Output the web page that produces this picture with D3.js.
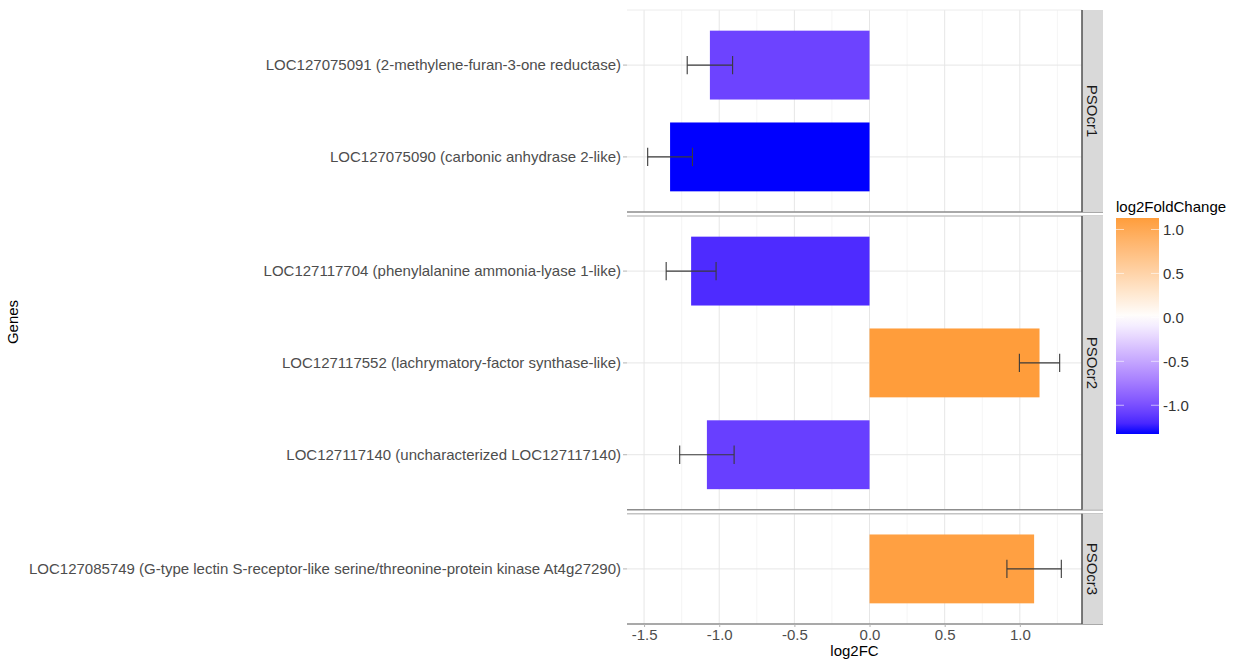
<!DOCTYPE html>
<html>
<head>
<meta charset="utf-8">
<script src="https://cdn.jsdelivr.net/npm/d3@7"></script>
<style>
  html, body { margin: 0; padding: 0; background: #fff; }
  svg { display: block; font-family: "Liberation Sans", Arial, sans-serif; }
</style>
</head>
<body>
<svg id="chart" width="1236" height="662"></svg>
<script>
// Facets (clusters) and genes, listed top to bottom inside each facet
const clusters = ["PSOcr1", "PSOcr2", "PSOcr3"];
const genes = [
  "LOC127075091 (2-methylene-furan-3-one reductase)",
  "LOC127075090 (carbonic anhydrase 2-like)",
  "LOC127117704 (phenylalanine ammonia-lyase 1-like)",
  "LOC127117552 (lachrymatory-factor synthase-like)",
  "LOC127117140 (uncharacterized LOC127117140)",
  "LOC127085749 (G-type lectin S-receptor-like serine/threonine-protein kinase At4g27290)"
];
const geneCluster = ["PSOcr1", "PSOcr1", "PSOcr2", "PSOcr2", "PSOcr2", "PSOcr3"];
const log2FC = [-1.062, -1.327, -1.187, 1.131, -1.082, 1.095];
const stdErr = [0.151, 0.149, 0.166, 0.134, 0.181, 0.181];
const xTicks = [-1.5, -1.0, -0.5, 0.0, 0.5, 1.0];
const legendTicks = [-1.0, -0.5, 0.0, 0.5, 1.0];

const rows = genes.map((g, i) => ({
  gene: g, cluster: geneCluster[i], value: log2FC[i], se: stdErr[i]
}));

const svg = d3.select("#chart");
const FS = 15;

// Plot frame
const panelLeft = 627, panelRight = 1082, stripW = 21;
const plotTop = 10, plotBottom = 624, gap = 4;

// x scale from error-bar extent with 5% expansion
const lo = d3.min(rows, d => d.value - d.se), hi = d3.max(rows, d => d.value + d.se);
const pad = (hi - lo) * 0.05;
const x = d3.scaleLinear().domain([lo - pad, hi + pad]).range([panelLeft, panelRight]);

// Colour scale: blue - white - orange around 0 (Lab interpolation)
const lim = d3.extent(rows, d => d.value);
const M = d3.max(lim, Math.abs);
const fill = d3.scaleLinear().domain([-M, 0, M])
  .range(["#0000ff", "#ffffff", "#ff8c00"]).interpolate(d3.interpolateLab);

// Facet heights proportional to number of genes (+0.6 expansion each side)
const counts = clusters.map(c => rows.filter(r => r.cluster === c).length);
const units = d3.sum(counts, n => n + 0.2);
const k = (plotBottom - plotTop - gap * (clusters.length - 1)) / units;
let yCursor = plotTop;
const panels = clusters.map((c, i) => {
  const h = (counts[i] + 0.2) * k;
  const p = { cluster: c, y0: yCursor, y1: yCursor + h,
              genes: rows.filter(r => r.cluster === c).map(r => r.gene) };
  yCursor += h + gap;
  return p;
});

// Minor x grid values
const minor = d3.range(-1.5, 1.5001, 0.25).filter(v => x(v) >= panelLeft && x(v) <= panelRight);

panels.forEach((p, pi) => {
  const y = d3.scaleBand().domain(p.genes).range([p.y0, p.y1])
    .paddingInner(0.25).paddingOuter(0.225);
  const g = svg.append("g");

  // grid
  g.selectAll("line.minor").data(minor.filter(v => !xTicks.includes(+v.toFixed(2))))
    .join("line").attr("x1", d => x(d)).attr("x2", d => x(d))
    .attr("y1", p.y0).attr("y2", p.y1).attr("stroke", "#f3f3f3").attr("stroke-width", 0.8);
  g.selectAll("line.major").data(xTicks).join("line")
    .attr("x1", d => x(d)).attr("x2", d => x(d))
    .attr("y1", p.y0).attr("y2", p.y1).attr("stroke", "#e6e6e6").attr("stroke-width", 1);
  g.selectAll("line.hgrid").data(p.genes).join("line")
    .attr("x1", panelLeft).attr("x2", panelRight)
    .attr("y1", d => y(d) + y.bandwidth() / 2).attr("y2", d => y(d) + y.bandwidth() / 2)
    .attr("stroke", "#e6e6e6").attr("stroke-width", 1);

  const data = rows.filter(r => r.cluster === p.cluster);
  // bars
  g.selectAll("rect.bar").data(data).join("rect")
    .attr("x", d => x(Math.min(0, d.value)))
    .attr("width", d => Math.abs(x(d.value) - x(0)))
    .attr("y", d => y(d.gene)).attr("height", y.bandwidth())
    .attr("fill", d => fill(d.value));

  // error bars
  const cap = y.step() * 0.1;
  data.forEach(d => {
    const cy = y(d.gene) + y.bandwidth() / 2;
    const eg = g.append("g").attr("stroke", "#3a3a3a").attr("stroke-width", 1.1).attr("fill", "none");
    eg.append("line").attr("x1", x(d.value - d.se)).attr("x2", x(d.value + d.se)).attr("y1", cy).attr("y2", cy);
    [d.value - d.se, d.value + d.se].forEach(v =>
      eg.append("line").attr("x1", x(v)).attr("x2", x(v)).attr("y1", cy - cap).attr("y2", cy + cap));
  });

  // y axis labels
  const ya = d3.axisLeft(y).tickSize(4).tickPadding(2);
  const axg = svg.append("g").attr("transform", `translate(${panelLeft},0)`).call(ya);
  axg.select(".domain").remove();
  axg.selectAll(".tick line").attr("stroke", "#b3b3b3");
  axg.selectAll(".tick text").attr("fill", "#4d4d4d").attr("font-size", FS)
    .attr("font-family", "Liberation Sans, Arial, sans-serif");

  // panel separators
  if (pi > 0) {
    svg.append("line").attr("x1", panelLeft).attr("x2", panelRight + stripW)
      .attr("y1", p.y0).attr("y2", p.y0).attr("stroke", "#c4c4c4").attr("stroke-width", 1.5);
  } else {
    svg.append("line").attr("x1", panelLeft).attr("x2", panelRight)
      .attr("y1", p.y0).attr("y2", p.y0).attr("stroke", "#ececec").attr("stroke-width", 1);
  }
  svg.append("line").attr("x1", panelLeft).attr("x2", panelRight + stripW)
    .attr("y1", p.y1).attr("y2", p.y1).attr("stroke", "#8c8c8c").attr("stroke-width", 1.5);

  // strip
  svg.append("rect").attr("x", panelRight).attr("y", p.y0)
    .attr("width", stripW).attr("height", p.y1 - p.y0).attr("fill", "#d9d9d9");
  svg.append("line").attr("x1", panelRight).attr("x2", panelRight)
    .attr("y1", p.y0).attr("y2", p.y1).attr("stroke", "#5a5a5a").attr("stroke-width", 1.6);
  svg.append("text")
    .attr("transform", `translate(${panelRight + stripW / 2},${(p.y0 + p.y1) / 2}) rotate(90)`)
    .attr("text-anchor", "middle").attr("dy", "0.35em")
    .attr("font-size", FS).attr("fill", "#1a1a1a").text(p.cluster);
});

// x axis
const xa = svg.append("g").attr("transform", `translate(0,${plotBottom})`)
  .call(d3.axisBottom(x).tickValues(xTicks).tickFormat(d3.format(".1f")).tickSize(3).tickPadding(2));
xa.select(".domain").remove();
xa.selectAll(".tick line").attr("stroke", "#b3b3b3");
xa.selectAll(".tick text").attr("fill", "#4d4d4d").attr("font-size", FS)
  .attr("font-family", "Liberation Sans, Arial, sans-serif")
  .text(d => d3.format(".1f")(d).replace("−", "-"));

svg.append("text").attr("x", (panelLeft + panelRight) / 2).attr("y", 656)
  .attr("text-anchor", "middle").attr("font-size", FS).attr("fill", "#000").text("log2FC");
svg.append("text").attr("transform", "translate(18,322) rotate(-90)")
  .attr("text-anchor", "middle").attr("font-size", FS).attr("fill", "#000").text("Genes");

// Legend colour bar
const legX = 1116, legW = 43, legTop = 218, legBot = 434;
const ly = d3.scaleLinear().domain(lim).range([legBot, legTop]);
const defs = svg.append("defs");
const grad = defs.append("linearGradient").attr("id", "fcgrad")
  .attr("x1", 0).attr("x2", 0).attr("y1", 1).attr("y2", 0);
d3.range(0, 1.0001, 0.05).forEach(t => {
  const v = lim[0] + t * (lim[1] - lim[0]);
  grad.append("stop").attr("offset", t).attr("stop-color", fill(v));
});
svg.append("rect").attr("x", legX).attr("y", legTop).attr("width", legW)
  .attr("height", legBot - legTop).attr("fill", "url(#fcgrad)");
const lt = svg.append("g");
legendTicks.forEach(v => {
  lt.append("line").attr("x1", legX).attr("x2", legX + 8).attr("y1", ly(v)).attr("y2", ly(v))
    .attr("stroke", "#fff").attr("stroke-opacity", 0.6);
  lt.append("line").attr("x1", legX + legW - 8).attr("x2", legX + legW).attr("y1", ly(v)).attr("y2", ly(v))
    .attr("stroke", "#fff").attr("stroke-opacity", 0.6);
  lt.append("text").attr("x", legX + legW + 4).attr("y", ly(v)).attr("dy", "0.35em")
    .attr("font-size", FS).attr("fill", "#333").text(d3.format(".1f")(v).replace("−", "-"));
});
svg.append("text").attr("x", legX).attr("y", 212).attr("font-size", FS)
  .attr("fill", "#000").text("log2FoldChange");
</script>
</body>
</html>
